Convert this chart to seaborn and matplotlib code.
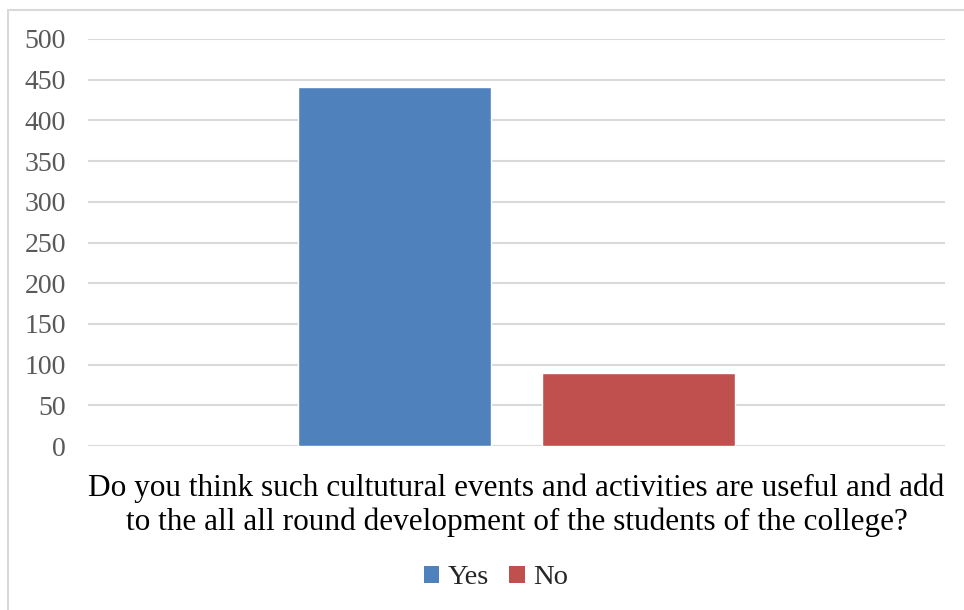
import pandas as pd
import matplotlib.pyplot as plt
import seaborn as sns
from matplotlib.patches import Rectangle, Patch

question = ["Do you think such cultutural events and activities are useful and add\n"
            "to the all all round development of the students of the college?"]
answers = ["Yes", "No"]
counts = [441, 90]
colors = ["#4F81BD", "#C0504D"]
y_ticks = [0, 50, 100, 150, 200, 250, 300, 350, 400, 450, 500]

df = pd.DataFrame({
    'question': question * len(answers),
    'answer': answers,
    'count': counts,
})

sns.set_style('white')
plt.rcParams['font.family'] = ['Liberation Serif', 'DejaVu Serif']

fig = plt.figure(figsize=(9.64, 6.10), dpi=100)
ax = fig.add_axes([88 / 964, 1 - 446 / 610, (945 - 88) / 964, (446 - 39) / 610])

sns.barplot(data=df, x='question', y='count', hue='answer', hue_order=answers,
            palette=dict(zip(answers, colors)), width=0.57, gap=0.21,
            saturation=1, ax=ax, legend=False)

ax.set_ylim(0, 500)
ax.set_xlim(-0.5, 0.5)
ax.set_yticks(y_ticks)
ax.yaxis.grid(True, color='#D9D9D9', linewidth=1.5)
ax.set_axisbelow(True)
for s in ax.spines.values():
    s.set_visible(False)
ax.tick_params(axis='y', length=0, pad=16, labelsize=20, labelcolor='#595959')
ax.tick_params(axis='x', length=0, pad=20, labelsize=22.5, labelcolor='black')
for lbl in ax.get_xticklabels():
    lbl.set_multialignment('center')
    lbl.set_linespacing(1.17)
ax.set_xlabel('')
ax.set_ylabel('')

handles = [Patch(facecolor=c, edgecolor='none', label=a) for a, c in zip(answers, colors)]
fig.legend(handles=handles, loc='center', bbox_to_anchor=(496 / 964, 1 - 578 / 610),
           ncol=2, frameon=False, fontsize=20.5, handlelength=0.55, handleheight=0.55,
           handletextpad=0.3, columnspacing=0.7)

# outer chart border (top and left edges visible)
fig.patches.append(Rectangle((8 / 964, -0.1), 2, 1.1 - 10 / 610, transform=fig.transFigure,
                             fill=False, edgecolor='#D9D9D9', linewidth=1.5))

fig.savefig('out.png', dpi=100)
